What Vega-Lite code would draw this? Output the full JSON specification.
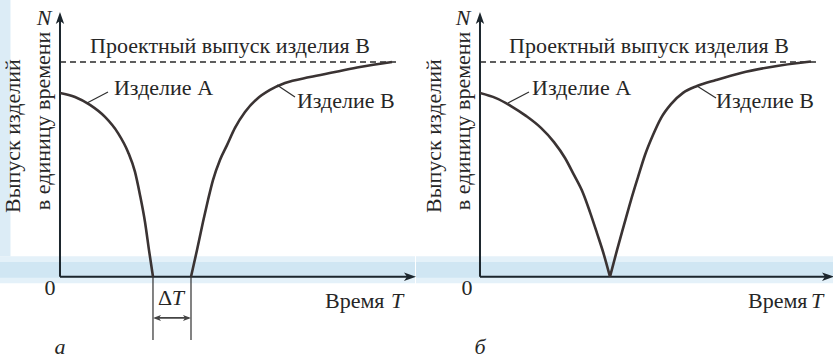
{
  "$schema": "https://vega.github.io/schema/vega-lite/v6.json",
  "background": "white",
  "padding": 0,
  "spacing": 0,
  "config": {
    "view": {"stroke": null},
    "font": "Liberation Serif",
    "text": {"font": "Liberation Serif", "fontSize": 22, "fill": "#262626"}
  },
  "hconcat": [
    {
      "width": 415,
      "height": 359,
      "data": {"values": [{}]},
      "layer": [
        {
          "mark": {"type": "rect", "fill": "#e4f1f9"},
          "encoding": {
            "x": {"datum": -1.818, "type": "quantitative", "scale": {"domain": [-1.818, 10.758], "nice": false, "zero": false}, "axis": null},
            "x2": {"datum": 10.758},
            "y": {"datum": 0.95, "type": "quantitative", "scale": {"domain": [-3.833, 12.888], "nice": false, "zero": false}, "axis": null},
            "y2": {"datum": -0.3}
          }
        },
        {
          "mark": {"type": "rect", "fill": "#d0e6f3"},
          "encoding": {
            "x": {"datum": -1.818, "type": "quantitative"},
            "x2": {"datum": 10.758},
            "y": {"datum": 0.68, "type": "quantitative"},
            "y2": {"datum": -0.05}
          }
        },
        {
          "mark": {"type": "rect", "fill": "#dcecf6"},
          "encoding": {
            "x": {"datum": -1.818, "type": "quantitative"},
            "x2": {"datum": -1.5},
            "y": {"datum": 12.888, "type": "quantitative"},
            "y2": {"datum": 0.95}
          }
        },
        {
          "mark": {"type": "rule", "stroke": "#2a2a2a", "strokeWidth": 1.5, "strokeDash": [6, 4]},
          "encoding": {
            "x": {"datum": 0, "type": "quantitative"},
            "x2": {"datum": 10.24},
            "y": {"datum": 10, "type": "quantitative"}
          }
        },
        {
          "mark": {"type": "rule", "stroke": "#1c262d", "strokeWidth": 2},
          "encoding": {
            "x": {"datum": 0, "type": "quantitative"},
            "x2": {"datum": 10.606},
            "y": {"datum": 0, "type": "quantitative"}
          }
        },
        {
          "mark": {"type": "rule", "stroke": "#1c262d", "strokeWidth": 2},
          "encoding": {
            "x": {"datum": 0, "type": "quantitative"},
            "y": {"datum": 0, "type": "quantitative"},
            "y2": {"datum": 12.05}
          }
        },
        {
          "mark": {"type": "point", "shape": "M1,0 L-1,0.7 L-0.5,0 L-1,-0.7 Z", "filled": true, "size": 144, "fill": "#1c262d", "opacity": 1, "strokeWidth": 0},
          "encoding": {
            "x": {"datum": 10.606, "type": "quantitative"},
            "y": {"datum": 0, "type": "quantitative"}
          }
        },
        {
          "mark": {"type": "point", "shape": "M0,-1 L0.7,1 L0,0.5 L-0.7,1 Z", "filled": true, "size": 144, "fill": "#1c262d", "opacity": 1, "strokeWidth": 0},
          "encoding": {
            "x": {"datum": 0, "type": "quantitative"},
            "y": {"datum": 12.05, "type": "quantitative"}
          }
        },
        {
          "data": {
            "values": [
              {"series": "A", "T": 0, "N": 8.556},
              {"series": "A", "T": 0.455, "N": 8.37},
              {"series": "A", "T": 0.909, "N": 8.0},
              {"series": "A", "T": 1.364, "N": 7.44},
              {"series": "A", "T": 1.758, "N": 6.69},
              {"series": "A", "T": 2.061, "N": 5.81},
              {"series": "A", "T": 2.273, "N": 4.88},
              {"series": "A", "T": 2.424, "N": 3.81},
              {"series": "A", "T": 2.576, "N": 2.55},
              {"series": "A", "T": 2.697, "N": 1.24},
              {"series": "A", "T": 2.818, "N": 0},
              {"series": "B", "T": 3.97, "N": 0},
              {"series": "B", "T": 4.152, "N": 1.24},
              {"series": "B", "T": 4.333, "N": 2.55},
              {"series": "B", "T": 4.485, "N": 3.57},
              {"series": "B", "T": 4.636, "N": 4.5},
              {"series": "B", "T": 4.848, "N": 5.44},
              {"series": "B", "T": 5.061, "N": 6.13},
              {"series": "B", "T": 5.303, "N": 6.93},
              {"series": "B", "T": 5.606, "N": 7.67},
              {"series": "B", "T": 5.97, "N": 8.28},
              {"series": "B", "T": 6.364, "N": 8.7},
              {"series": "B", "T": 6.818, "N": 9.02},
              {"series": "B", "T": 7.576, "N": 9.3},
              {"series": "B", "T": 8.333, "N": 9.53},
              {"series": "B", "T": 9.091, "N": 9.77},
              {"series": "B", "T": 10.06, "N": 10.0}
            ]
          },
          "mark": {"type": "line", "stroke": "#3a3333", "strokeWidth": 2.6, "interpolate": "monotone"},
          "encoding": {
            "x": {"field": "T", "type": "quantitative"},
            "y": {"field": "N", "type": "quantitative"},
            "detail": {"field": "series"}
          }
        },
        {
          "data": {
            "values": [
              {"T": 0.818, "N": 8.09, "T2": 1.455, "N2": 8.6},
              {"T": 6.576, "N": 8.93, "T2": 7.121, "N2": 8.37},
              {"T": 2.818, "N": 0, "T2": 2.818, "N2": -2.95},
              {"T": 3.97, "N": 0, "T2": 3.97, "N2": -2.95}
            ]
          },
          "mark": {"type": "rule", "stroke": "#2f2f2f", "strokeWidth": 1.2},
          "encoding": {
            "x": {"field": "T", "type": "quantitative"},
            "y": {"field": "N", "type": "quantitative"},
            "x2": {"field": "T2"},
            "y2": {"field": "N2"}
          }
        },
        {
          "mark": {"type": "rule", "stroke": "#444444", "strokeWidth": 1.8},
          "encoding": {
            "x": {"datum": 2.9, "type": "quantitative"},
            "x2": {"datum": 3.9},
            "y": {"datum": -1.92, "type": "quantitative"}
          }
        },
        {
          "mark": {"type": "point", "shape": "M-1,0 L1,-0.75 L0.5,0 L1,0.75 Z", "filled": true, "size": 64, "fill": "#444444", "opacity": 1, "strokeWidth": 0},
          "encoding": {
            "x": {"datum": 2.94, "type": "quantitative"},
            "y": {"datum": -1.92, "type": "quantitative"}
          }
        },
        {
          "mark": {"type": "point", "shape": "M1,0 L-1,0.75 L-0.5,0 L-1,-0.75 Z", "filled": true, "size": 64, "fill": "#444444", "opacity": 1, "strokeWidth": 0},
          "encoding": {
            "x": {"datum": 3.848, "type": "quantitative"},
            "y": {"datum": -1.92, "type": "quantitative"}
          }
        },
        {
          "data": {
            "values": [
              {"label": "Изделие А", "T": 1.636, "N": 8.46},
              {"label": "Изделие В", "T": 7.18, "N": 7.86},
              {"label": "Время", "T": 8.03, "N": -1.46}
            ]
          },
          "mark": {"type": "text", "font": "Liberation Serif", "align": "left", "baseline": "alphabetic"},
          "encoding": {
            "x": {"field": "T", "type": "quantitative"},
            "y": {"field": "N", "type": "quantitative"},
            "text": {"field": "label"}
          }
        },
        {
          "data": {
            "values": [
              {"label": "Проектный выпуск изделия В", "T": 5.15, "N": 10.42},
              {"label": "0", "T": -0.303, "N": -0.852},
              {"label": "Δ", "T": 3.182, "N": -1.32}
            ]
          },
          "mark": {"type": "text", "font": "Liberation Serif", "align": "center", "baseline": "alphabetic"},
          "encoding": {
            "x": {"field": "T", "type": "quantitative"},
            "y": {"field": "N", "type": "quantitative"},
            "text": {"field": "label"}
          }
        },
        {
          "data": {
            "values": [
              {"label": "N", "T": -0.485, "N": 11.72},
              {"label": "а", "T": 0, "N": -3.6}
            ]
          },
          "mark": {"type": "text", "font": "Liberation Serif", "align": "center", "baseline": "alphabetic", "fontStyle": "italic"},
          "encoding": {
            "x": {"field": "T", "type": "quantitative"},
            "y": {"field": "N", "type": "quantitative"},
            "text": {"field": "label"}
          }
        },
        {
          "data": {
            "values": [
              {"label": "T", "T": 3.39, "N": -1.32},
              {"label": "T", "T": 10.03, "N": -1.46}
            ]
          },
          "mark": {"type": "text", "font": "Liberation Serif", "align": "left", "baseline": "alphabetic", "fontStyle": "italic"},
          "encoding": {
            "x": {"field": "T", "type": "quantitative"},
            "y": {"field": "N", "type": "quantitative"},
            "text": {"field": "label"}
          }
        },
        {
          "data": {
            "values": [
              {"label": "Выпуск изделий", "T": -1.197, "N": 2.97},
              {"label": "в единицу времени", "T": -0.303, "N": 3.1}
            ]
          },
          "mark": {"type": "text", "font": "Liberation Serif", "align": "left", "baseline": "alphabetic", "angle": 270},
          "encoding": {
            "x": {"field": "T", "type": "quantitative"},
            "y": {"field": "N", "type": "quantitative"},
            "text": {"field": "label"}
          }
        }
      ]
    },
    {
      "width": 418,
      "height": 359,
      "data": {"values": [{}]},
      "layer": [
        {
          "mark": {"type": "rect", "fill": "#e4f1f9"},
          "encoding": {
            "x": {"datum": -1.939, "type": "quantitative", "scale": {"domain": [-1.939, 10.727], "nice": false, "zero": false}, "axis": null},
            "x2": {"datum": 10.727},
            "y": {"datum": 0.95, "type": "quantitative", "scale": {"domain": [-3.833, 12.888], "nice": false, "zero": false}, "axis": null},
            "y2": {"datum": -0.3}
          }
        },
        {
          "mark": {"type": "rect", "fill": "#d0e6f3"},
          "encoding": {
            "x": {"datum": -1.939, "type": "quantitative"},
            "x2": {"datum": 10.727},
            "y": {"datum": 0.68, "type": "quantitative"},
            "y2": {"datum": -0.05}
          }
        },
        {
          "mark": {"type": "rule", "stroke": "#2a2a2a", "strokeWidth": 1.5, "strokeDash": [6, 4]},
          "encoding": {
            "x": {"datum": 0, "type": "quantitative"},
            "x2": {"datum": 10.21},
            "y": {"datum": 10, "type": "quantitative"}
          }
        },
        {
          "mark": {"type": "rule", "stroke": "#1c262d", "strokeWidth": 2},
          "encoding": {
            "x": {"datum": 0, "type": "quantitative"},
            "x2": {"datum": 10.545},
            "y": {"datum": 0, "type": "quantitative"}
          }
        },
        {
          "mark": {"type": "rule", "stroke": "#1c262d", "strokeWidth": 2},
          "encoding": {
            "x": {"datum": 0, "type": "quantitative"},
            "y": {"datum": 0, "type": "quantitative"},
            "y2": {"datum": 12.05}
          }
        },
        {
          "mark": {"type": "point", "shape": "M1,0 L-1,0.7 L-0.5,0 L-1,-0.7 Z", "filled": true, "size": 144, "fill": "#1c262d", "opacity": 1, "strokeWidth": 0},
          "encoding": {
            "x": {"datum": 10.545, "type": "quantitative"},
            "y": {"datum": 0, "type": "quantitative"}
          }
        },
        {
          "mark": {"type": "point", "shape": "M0,-1 L0.7,1 L0,0.5 L-0.7,1 Z", "filled": true, "size": 144, "fill": "#1c262d", "opacity": 1, "strokeWidth": 0},
          "encoding": {
            "x": {"datum": 0, "type": "quantitative"},
            "y": {"datum": 12.05, "type": "quantitative"}
          }
        },
        {
          "data": {
            "values": [
              {"series": "A", "T": 0, "N": 8.556},
              {"series": "A", "T": 0.485, "N": 8.32},
              {"series": "A", "T": 0.939, "N": 7.95},
              {"series": "A", "T": 1.394, "N": 7.49},
              {"series": "A", "T": 1.848, "N": 6.93},
              {"series": "A", "T": 2.242, "N": 6.27},
              {"series": "A", "T": 2.576, "N": 5.53},
              {"series": "A", "T": 2.848, "N": 4.74},
              {"series": "A", "T": 3.121, "N": 3.9},
              {"series": "A", "T": 3.333, "N": 3.01},
              {"series": "A", "T": 3.545, "N": 2.03},
              {"series": "A", "T": 3.758, "N": 1.01},
              {"series": "A", "T": 3.939, "N": 0},
              {"series": "B", "T": 3.939, "N": 0},
              {"series": "B", "T": 4.152, "N": 1.24},
              {"series": "B", "T": 4.364, "N": 2.41},
              {"series": "B", "T": 4.576, "N": 3.57},
              {"series": "B", "T": 4.788, "N": 4.64},
              {"series": "B", "T": 5.0, "N": 5.67},
              {"series": "B", "T": 5.242, "N": 6.6},
              {"series": "B", "T": 5.485, "N": 7.39},
              {"series": "B", "T": 5.788, "N": 8.04},
              {"series": "B", "T": 6.152, "N": 8.56},
              {"series": "B", "T": 6.576, "N": 8.88},
              {"series": "B", "T": 7.152, "N": 9.16},
              {"series": "B", "T": 7.909, "N": 9.49},
              {"series": "B", "T": 8.818, "N": 9.77},
              {"series": "B", "T": 10.03, "N": 10.02}
            ]
          },
          "mark": {"type": "line", "stroke": "#3a3333", "strokeWidth": 2.6, "interpolate": "monotone"},
          "encoding": {
            "x": {"field": "T", "type": "quantitative"},
            "y": {"field": "N", "type": "quantitative"},
            "detail": {"field": "series"}
          }
        },
        {
          "data": {
            "values": [
              {"T": 0.848, "N": 8.09, "T2": 1.485, "N2": 8.6},
              {"T": 6.576, "N": 8.88, "T2": 7.152, "N2": 8.32}
            ]
          },
          "mark": {"type": "rule", "stroke": "#2f2f2f", "strokeWidth": 1.2},
          "encoding": {
            "x": {"field": "T", "type": "quantitative"},
            "y": {"field": "N", "type": "quantitative"},
            "x2": {"field": "T2"},
            "y2": {"field": "N2"}
          }
        },
        {
          "data": {
            "values": [
              {"label": "Изделие А", "T": 1.576, "N": 8.46},
              {"label": "Изделие В", "T": 7.152, "N": 7.86},
              {"label": "Время", "T": 8.12, "N": -1.46}
            ]
          },
          "mark": {"type": "text", "font": "Liberation Serif", "align": "left", "baseline": "alphabetic"},
          "encoding": {
            "x": {"field": "T", "type": "quantitative"},
            "y": {"field": "N", "type": "quantitative"},
            "text": {"field": "label"}
          }
        },
        {
          "data": {
            "values": [
              {"label": "Проектный выпуск изделия В", "T": 5.12, "N": 10.42},
              {"label": "0", "T": -0.394, "N": -0.852}
            ]
          },
          "mark": {"type": "text", "font": "Liberation Serif", "align": "center", "baseline": "alphabetic"},
          "encoding": {
            "x": {"field": "T", "type": "quantitative"},
            "y": {"field": "N", "type": "quantitative"},
            "text": {"field": "label"}
          }
        },
        {
          "data": {
            "values": [
              {"label": "N", "T": -0.515, "N": 11.72},
              {"label": "б", "T": 0, "N": -3.6}
            ]
          },
          "mark": {"type": "text", "font": "Liberation Serif", "align": "center", "baseline": "alphabetic", "fontStyle": "italic"},
          "encoding": {
            "x": {"field": "T", "type": "quantitative"},
            "y": {"field": "N", "type": "quantitative"},
            "text": {"field": "label"}
          }
        },
        {
          "data": {
            "values": [
              {"label": "T", "T": 10.03, "N": -1.46}
            ]
          },
          "mark": {"type": "text", "font": "Liberation Serif", "align": "left", "baseline": "alphabetic", "fontStyle": "italic"},
          "encoding": {
            "x": {"field": "T", "type": "quantitative"},
            "y": {"field": "N", "type": "quantitative"},
            "text": {"field": "label"}
          }
        },
        {
          "data": {
            "values": [
              {"label": "Выпуск изделий", "T": -1.182, "N": 2.97},
              {"label": "в единицу времени", "T": -0.303, "N": 3.1}
            ]
          },
          "mark": {"type": "text", "font": "Liberation Serif", "align": "left", "baseline": "alphabetic", "angle": 270},
          "encoding": {
            "x": {"field": "T", "type": "quantitative"},
            "y": {"field": "N", "type": "quantitative"},
            "text": {"field": "label"}
          }
        }
      ]
    }
  ]
}
